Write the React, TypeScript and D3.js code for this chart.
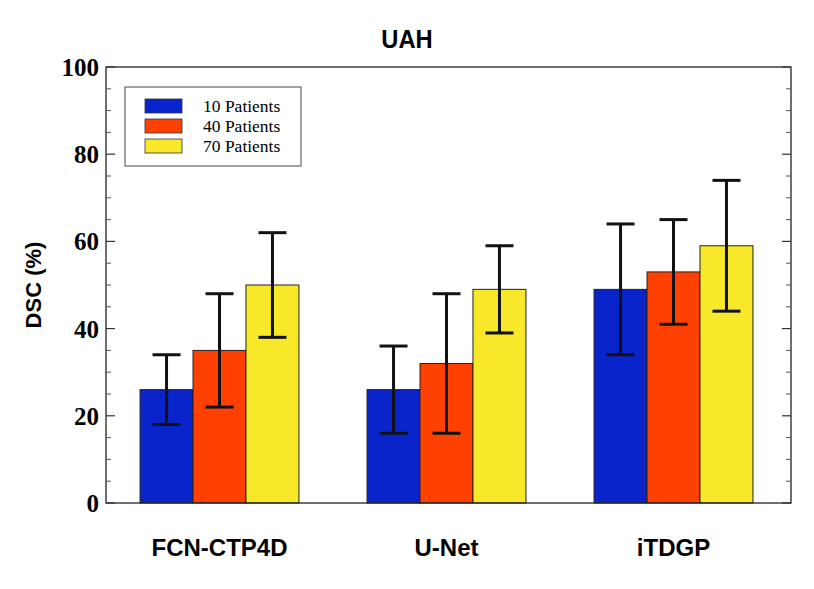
import { useMemo } from "react";
import * as d3 from "d3";

document.body.style.margin = "0";

const categories = ["FCN-CTP4D", "U-Net", "iTDGP"];
const seriesNames = ["10 Patients", "40 Patients", "70 Patients"];
const seriesColors = ["#0a24cc", "#ff4000", "#f8e82a"];
const means = [
  [26, 35, 50],
  [26, 32, 49],
  [49, 53, 59],
];
const lows = [
  [18, 22, 38],
  [16, 16, 39],
  [34, 41, 44],
];
const highs = [
  [34, 48, 62],
  [36, 48, 59],
  [64, 65, 74],
];
const majorTicks = [0, 20, 40, 60, 80, 100];
const minorTicks = d3.range(0, 101, 5).filter((t) => t % 20 !== 0);

const sans = "Liberation Sans, Arial, sans-serif";
const serif = "Liberation Serif, Times New Roman, serif";

export default function App() {
  const layout = useMemo(() => {
    const width = 814;
    const height = 589;
    const margin = { top: 67, right: 23, bottom: 86, left: 106 };
    // groups sit on a slightly narrower band than the frame
    const x = d3.scaleBand<string>().domain(categories).range([margin.left, margin.left + 681]).paddingInner(0.3).paddingOuter(0.15);
    const inner = d3.scaleBand<string>().domain(seriesNames).range([0, x.bandwidth()]);
    const y = d3.scaleLinear().domain([0, 100]).range([height - margin.bottom, margin.top]);
    return { width, height, margin, x, inner, y };
  }, []);
  const { width, height, margin, x, inner, y } = layout;
  const left = margin.left;
  const right = width - margin.right;

  return (
    <svg width={width} height={height} viewBox={`0 0 ${width} ${height}`} style={{ display: "block" }}>
      <rect width={width} height={height} fill="white" />
      <text x={width / 2} y={48} textAnchor="middle" fontFamily={sans} fontWeight="bold" fontSize="25" transform={`translate(${width / 2}, 0) scale(0.95, 1) translate(${-width / 2}, 0)`}>UAH</text>

      {categories.map((cat, ci) => (
        <g key={cat}>
          {seriesNames.map((s, si) => {
            const bx = (x(cat) ?? 0) + (inner(s) ?? 0);
            const cx = bx + inner.bandwidth() / 2;
            return (
              <g key={s}>
                <rect x={bx} y={y(means[ci][si])} width={inner.bandwidth()} height={y(0) - y(means[ci][si])} fill={seriesColors[si]} stroke="#222" strokeWidth={1} />
                <line x1={cx} x2={cx} y1={y(lows[ci][si])} y2={y(highs[ci][si])} stroke="#111" strokeWidth={3} />
                <line x1={cx - 14} x2={cx + 14} y1={y(lows[ci][si])} y2={y(lows[ci][si])} stroke="#111" strokeWidth={3} />
                <line x1={cx - 14} x2={cx + 14} y1={y(highs[ci][si])} y2={y(highs[ci][si])} stroke="#111" strokeWidth={3} />
              </g>
            );
          })}
          <text x={(x(cat) ?? 0) + x.bandwidth() / 2} y={556} textAnchor="middle" fontFamily={sans} fontWeight="bold" fontSize="24">{cat}</text>
        </g>
      ))}

      <rect x={left} y={margin.top} width={right - left} height={y(0) - margin.top} fill="none" stroke="#222" strokeWidth={1.3} />

      {majorTicks.map((t) => (
        <g key={t}>
          <line x1={left} x2={left + 9} y1={y(t)} y2={y(t)} stroke="#333" strokeWidth={1.2} />
          <line x1={right - 9} x2={right} y1={y(t)} y2={y(t)} stroke="#333" strokeWidth={1.2} />
          <text x={left - 7} y={y(t) + 9} textAnchor="end" fontFamily={serif} fontWeight="bold" fontSize="25">{t}</text>
        </g>
      ))}
      {minorTicks.map((t) => (
        <g key={t}>
          <line x1={left} x2={left + 5} y1={y(t)} y2={y(t)} stroke="#555" strokeWidth={1} />
          <line x1={right - 5} x2={right} y1={y(t)} y2={y(t)} stroke="#555" strokeWidth={1} />
        </g>
      ))}

      <text transform={`translate(41, ${(margin.top + y(0)) / 2}) rotate(-90)`} textAnchor="middle" fontFamily={sans} fontWeight="bold" fontSize="22">DSC (%)</text>

      <g transform="translate(125, 87)">
        <rect width={176} height={79} fill="white" stroke="#444" strokeWidth={1} />
        {seriesNames.map((s, i) => (
          <g key={s} transform={`translate(0, ${12 + i * 20})`}>
            <rect x={20} y={0} width={37} height={14} fill={seriesColors[i]} stroke="#333" strokeWidth={0.8} />
            <text x={78} y={13} fontFamily={serif} fontSize="17.5">{s}</text>
          </g>
        ))}
      </g>
    </svg>
  );
}
